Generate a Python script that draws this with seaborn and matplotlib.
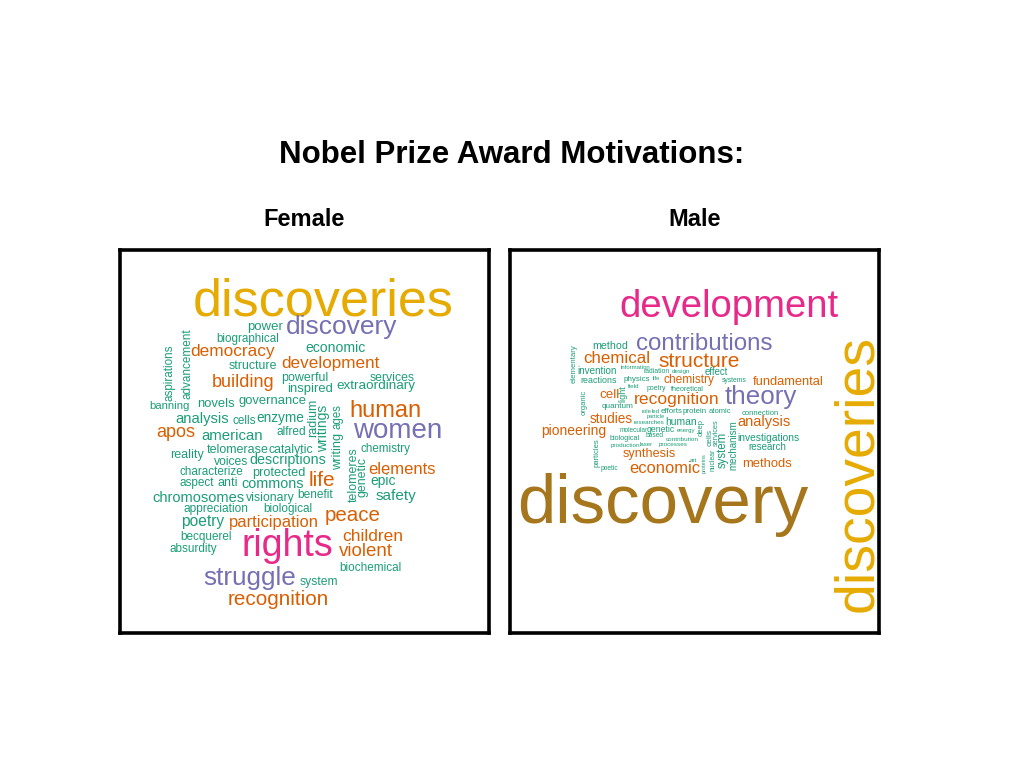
import matplotlib
matplotlib.use('Agg')
import matplotlib.pyplot as plt
import seaborn as sns

# word cloud data: word, weight (pt size), colour tier (Dark2 index)
female_words = ['discoveries', 'power', 'discovery', 'biographical', 'democracy', 'economic',
                'structure', 'development', 'aspirations', 'advancement', 'building', 'powerful',
                'inspired', 'services', 'extraordinary', 'banning', 'novels', 'governance',
                'radium', 'writings', 'ages', 'writing', 'human', 'women', 'analysis', 'cells',
                'enzyme', 'apos', 'american', 'alfred', 'reality', 'telomerase', 'catalytic',
                'voices', 'descriptions', 'chemistry', 'characterize', 'protected', 'life',
                'elements', 'telomeres', 'genetic', 'epic', 'aspect', 'anti', 'commons',
                'chromosomes', 'visionary', 'benefit', 'safety', 'appreciation', 'biological',
                'peace', 'poetry', 'participation', 'becquerel', 'children', 'rights', 'violent',
                'absurdity', 'biochemical', 'struggle', 'system', 'recognition']
female_size = [37.5, 9.5, 19, 8.4, 12.4, 10.1,
               8.9, 12.3, 8.4, 8.5, 13, 9,
               9.4, 8.8, 9.7, 8.2, 9.4, 9.4,
               9, 10, 8.3, 9.2, 17, 20, 10.6, 8.5,
               9.8, 13, 10.8, 8.6, 9, 9, 8.8,
               8.7, 10.3, 8.4, 8.4, 9.2, 15,
               12, 8.9, 8.9, 10, 8.5, 9, 10.4,
               10.5, 8.8, 8.6, 11, 8.6, 8.5,
               14.8, 11.2, 11.9, 8.5, 12.5, 27, 13.5,
               8.5, 8.5, 18.8, 8.7, 14.9]
female_tier = [5, 0, 2, 0, 1, 0,
               0, 1, 0, 0, 1, 0,
               0, 0, 0, 0, 0, 0,
               0, 0, 0, 0, 1, 2, 0, 0,
               0, 1, 0, 0, 0, 0, 0,
               0, 0, 0, 0, 0, 1,
               1, 0, 0, 0, 0, 0, 0,
               0, 0, 0, 0, 0, 0,
               1, 0, 1, 0, 1, 3, 1,
               0, 0, 2, 0, 1]

male_words = ['development', 'contributions', 'method', 'elementary', 'chemical', 'structure',
              'information', 'invention', 'radiation', 'design', 'effect', 'reactions',
              'physics', 'life', 'chemistry', 'systems', 'fundamental', 'organic', 'cell',
              'light', 'field', 'poetry', 'theoretical', 'recognition', 'theory', 'quantum',
              'role', 'led', 'efforts', 'protein', 'atomic', 'connection', 'particle',
              'studies', 'researches', 'human', 'deep', 'analysis', 'mechanism', 'system',
              'services', 'cells', 'nuclear', 'proteins', 'pioneering', 'molecular', 'genetic',
              'energy', 'investigations', 'research', 'biological', 'based', 'contribution',
              'production', 'laser', 'processes', 'particles', 'synthesis', 'art', 'poetic',
              'economic', 'methods', 'discovery', 'discoveries']
male_size = [27.5, 17.4, 7.7, 5.6, 12.2, 15,
             4.3, 7.1, 4.9, 4.5, 6.9, 6.4,
             5.8, 4.1, 8.6, 4.9, 9.3, 5.5, 9.6,
             6.5, 4.6, 5, 5.1, 12.6, 18.7, 5.9,
             4.3, 4.3, 5.7, 5.7, 5.5, 5.5, 4.1,
             9.8, 4.5, 7.5, 5.4, 10.5, 7, 8.3,
             5.2, 6, 4.9, 4, 10, 4.7, 6.2,
             4.3, 7.4, 7, 5.2, 4.8, 4.6,
             4.6, 4.3, 4.6, 5.5, 9.1, 4.5, 4.8,
             11.9, 9.4, 49.7, 39.8]
male_tier = [3, 2, 0, 0, 1, 1,
             0, 0, 0, 0, 0, 0,
             0, 0, 1, 0, 1, 0, 1,
             0, 0, 0, 0, 1, 2, 0,
             0, 0, 0, 0, 0, 0, 0,
             1, 0, 0, 0, 1, 0, 0,
             0, 0, 0, 0, 1, 0, 0,
             0, 0, 0, 0, 0, 0,
             0, 0, 0, 0, 1, 0, 0,
             1, 1, 6, 5]

# cloud layout (pixel positions inside each panel: centre x, baseline y)
female_x = [323.5, 264.7, 341.5, 247.5, 232.5, 336,
            253, 330.5, 172.5, 190.7, 243, 304.7,
            310.5, 392.5, 375.5, 169.7, 216, 272.5,
            316, 327, 340, 341, 385.3, 397.3, 201.7, 244,
            280.5, 175.5, 232.5, 291, 187.3, 237.5, 290.5,
            231.2, 288, 385.7, 211, 279.3, 321.7,
            402.2, 357, 365.5, 383.3, 196.7, 228, 273,
            198.3, 270.8, 314.7, 396.3, 215.8, 287.8,
            353, 202.3, 273.8, 205.8, 373, 287.5, 365.5,
            193.3, 370.5, 249.7, 319.2, 277.8]
female_y = [315, 330, 334, 341.7, 356, 351.7,
            369, 368.3, 373, 363.5, 386.7, 381,
            391.7, 381, 389.3, 409.3, 407.3, 404,
            418, 428.5, 417, 451, 416.7, 438, 423.3, 424,
            421.7, 436.7, 440, 435, 458.3, 452.7, 452.7,
            465, 464, 451.7, 475, 476, 486,
            474, 475, 477, 485, 486, 486, 488.3,
            501.7, 500.7, 498.3, 500, 511.7, 511.7,
            520.7, 526, 526.7, 540, 541, 556, 556,
            551.7, 570.7, 585, 585, 605]
female_vertical = {'aspirations', 'advancement', 'radium', 'writings', 'ages', 'writing',
                   'telomeres', 'genetic'}

male_x = [729.2, 704.3, 610.5, 575.3, 616.7, 698.8,
          635.8, 597.5, 657, 680.8, 716.7, 598.7,
          636.7, 656.3, 689.5, 734.2, 788.3, 585.3, 610,
          625, 634.2, 656.3, 687, 676.7, 761.2, 617.5,
          646.7, 656, 671.7, 694.7, 719.5, 760, 655.8,
          611, 649.5, 680.8, 703, 763.7, 736.7, 725.7,
          717.3, 711.7, 715, 705.5, 574.2, 633.3, 661.2,
          685.8, 768.3, 767.2, 624.2, 655, 682.7,
          625, 646.2, 673, 599, 649.7, 693, 609.5,
          664.7, 766.7, 662.5, 871.7]
male_y = [316.7, 350, 349, 364, 363.3, 367.3,
          369, 374.3, 373.3, 372.7, 375, 382.7,
          381, 380, 382.7, 382.3, 385, 402.5, 398.3,
          394, 388.3, 390, 390.7, 404, 404, 408.3,
          413.3, 413.3, 413.3, 413.3, 413.3, 415, 417.7,
          423.3, 424, 425, 427, 426, 445, 450,
          433, 438, 460, 463, 435, 431.7, 431.7,
          431.7, 440.7, 450, 440, 437.3, 441.3,
          446.7, 446, 446, 452.5, 457.3, 461.7, 470,
          472.7, 467.3, 523.3, 473.3]
male_vertical = {'elementary', 'organic', 'light', 'deep', 'mechanism', 'system', 'services',
                 'cells', 'nuclear', 'proteins', 'particles', 'discoveries'}

sns.set_theme(style='white')
plt.rcParams['font.family'] = ['Liberation Sans', 'DejaVu Sans']
pal = sns.color_palette('Dark2', 8)

W, H = 1024, 768
fig = plt.figure(figsize=(10.24, 7.68), dpi=100)
fig.patch.set_facecolor('white')


def draw_cloud(box, title, words, sizes, tiers, xs, ys, vertical):
    x0, y0, x1, y1 = box
    ax = fig.add_axes([x0 / W, 1 - y1 / H, (x1 - x0) / W, (y1 - y0) / H])
    ax.set_xlim(x0, x1)
    ax.set_ylim(y1, y0)
    ax.set_xticks([])
    ax.set_yticks([])
    for s in ax.spines.values():
        s.set_color('black')
        s.set_linewidth(2.6)
    for w, sz, t, x, y in zip(words, sizes, tiers, xs, ys):
        rot = 90 if w in vertical else 0
        ax.text(x, y, w, fontsize=sz, color=pal[t], rotation=rot,
                rotation_mode='anchor', ha='center', va='baseline')
    fig.text((x0 + x1) / 2 / W, 1 - 226 / H, title, ha='center', va='baseline',
             fontsize=17, fontweight='bold', color='black')
    return ax


draw_cloud((120, 249.5, 489, 633), 'Female', female_words, female_size, female_tier,
           female_x, female_y, female_vertical)
draw_cloud((510, 249.5, 879, 633), 'Male', male_words, male_size, male_tier,
           male_x, male_y, male_vertical)

fig.text(512 / W, 1 - 163 / H, 'Nobel Prize Award Motivations:', ha='center', va='baseline',
         fontsize=22.5, fontweight='bold', color='black')

fig.savefig('out.png', dpi=100)
